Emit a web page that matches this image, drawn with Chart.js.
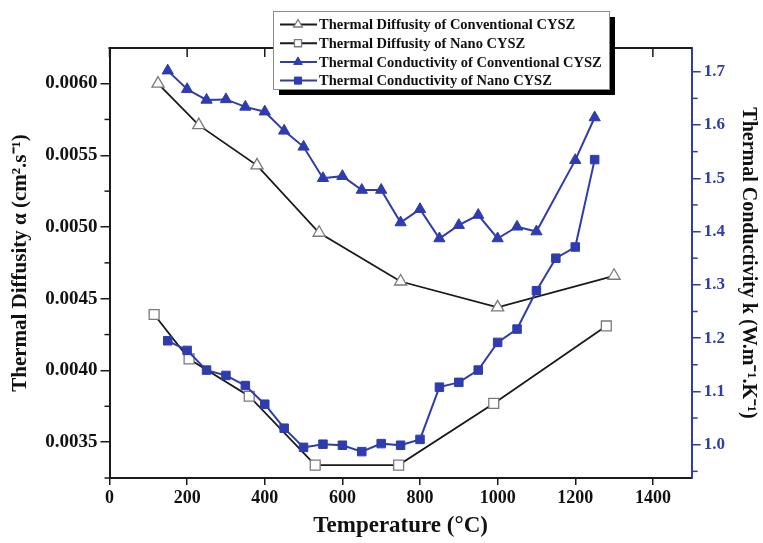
<!DOCTYPE html>
<html>
<head>
<meta charset="utf-8">
<script src="https://cdn.jsdelivr.net/npm/chart.js@4.4.0/dist/chart.umd.min.js"></script>
<style>
  html, body { margin: 0; padding: 0; background: #fff; }
  canvas { display: block; }
</style>
</head>
<body>
<canvas id="tcChart" width="763" height="543"></canvas>
<script>
const SERIF = "'Liberation Serif', 'Times New Roman', serif";
const BLUE = '#2e3cae';
const INK = '#1a1a1a';

// thermal diffusivity (left axis)
const diffConvTemp = [125, 230, 380, 540, 750, 1000, 1300];
const diffConvVal = [0.00600, 0.00571, 0.00543, 0.00496, 0.00462, 0.00444, 0.00466];
const diffNanoTemp = [115, 205, 360, 530, 745, 990, 1280];
const diffNanoVal = [0.00439, 0.00408, 0.00382, 0.00334, 0.00334, 0.00377, 0.00431];

// thermal conductivity (right axis)
const condConvTemp = [150, 200, 250, 300, 350, 400, 450, 500, 550, 600, 650, 700,
                      750, 800, 850, 900, 950, 1000, 1050, 1100, 1200, 1250];
const condConvVal = [1.702, 1.667, 1.647, 1.648, 1.634, 1.625, 1.589, 1.559, 1.500, 1.504, 1.478, 1.478,
                     1.417, 1.442, 1.387, 1.412, 1.431, 1.387, 1.409, 1.400, 1.534, 1.614];
const condNanoTemp = [150, 200, 250, 300, 350, 400, 450, 500, 550, 600, 650, 700,
                      750, 800, 850, 900, 950, 1000, 1050, 1100, 1150, 1200, 1250];
const condNanoVal = [1.195, 1.177, 1.140, 1.130, 1.111, 1.076, 1.031, 0.995, 1.001, 0.999, 0.987, 1.002,
                     0.999, 1.010, 1.108, 1.117, 1.140, 1.192, 1.217, 1.289, 1.350, 1.371, 1.535];

// axis ranges and tick spacing
const tempRange = [0, 1500];
const tempStep = 200;
const diffRange = [0.00325, 0.006248];
const diffStep = 0.0005;
const condRange = [0.9375, 1.7445];
const condStep = 0.1;

const pts = (xs, ys) => xs.map((x, i) => ({ x: x, y: ys[i] }));

// top border with inward ticks, plus minor ticks on both y axes
const framePlugin = {
  id: 'frame',
  afterDraw(chart) {
    const { ctx, chartArea: a, scales } = chart;
    ctx.save();
    ctx.strokeStyle = INK;
    ctx.lineWidth = 2;
    ctx.beginPath();
    ctx.moveTo(a.left - 1, a.top);
    ctx.lineTo(a.right, a.top);
    ctx.stroke();

    ctx.lineWidth = 1.5;
    scales.x.ticks.forEach(t => {
      const px = scales.x.getPixelForValue(t.value);
      ctx.beginPath();
      ctx.moveTo(px, a.top);
      ctx.lineTo(px, a.top + 9);
      ctx.stroke();
    });

    const minor = (scale, step, x0, len, color) => {
      ctx.strokeStyle = color;
      ctx.lineWidth = 1.5;
      const vals = scale.ticks.map(t => t.value);
      const mids = vals.map(v => v - step / 2);
      mids.push(vals[vals.length - 1] + step / 2);
      mids.filter(v => v > scale.min && v < scale.max).forEach(v => {
        const py = scale.getPixelForValue(v);
        ctx.beginPath();
        ctx.moveTo(x0, py);
        ctx.lineTo(x0 + len, py);
        ctx.stroke();
      });
    };
    minor(scales.y, diffStep, a.left, -5, INK);
    minor(scales.y1, condStep, a.right, 6, BLUE);
    ctx.restore();
  }
};

// boxed legend with drop shadow, sitting over the top border
const legendPlugin = {
  id: 'boxLegend',
  afterDraw(chart) {
    const ctx = chart.ctx;
    const bx = 273, by = 11, bw = 336, bh = 78;
    ctx.save();
    ctx.fillStyle = '#000';
    ctx.fillRect(bx + 6, by + 6, bw, bh);
    ctx.fillStyle = '#fff';
    ctx.fillRect(bx, by, bw, bh);
    ctx.strokeStyle = '#8a8a8a';
    ctx.lineWidth = 1;
    ctx.strokeRect(bx + 0.5, by + 0.5, bw, bh);

    ctx.font = 'bold 14.5px ' + SERIF;
    ctx.textBaseline = 'middle';
    chart.data.datasets.forEach((ds, i) => {
      const y = by + 13.5 + i * 18.7;
      ctx.strokeStyle = ds.borderColor;
      ctx.lineWidth = 2;
      ctx.beginPath();
      ctx.moveTo(bx + 7, y);
      ctx.lineTo(bx + 44, y);
      ctx.stroke();
      ctx.fillStyle = ds.pointBackgroundColor;
      ctx.strokeStyle = ds.pointBorderColor;
      ctx.lineWidth = ds.pointBorderWidth;
      Chart.helpers.drawPoint(ctx, {
        pointStyle: ds.pointStyle, radius: 5, rotation: 0, borderWidth: ds.pointBorderWidth
      }, bx + 25, y);
      ctx.fillStyle = '#111';
      ctx.fillText(ds.label, bx + 46, y + 1);
    });
    ctx.restore();
  }
};

new Chart(document.getElementById('tcChart'), {
  type: 'line',
  data: {
    datasets: [
      {
        label: 'Thermal Diffusity of Conventional CYSZ',
        data: pts(diffConvTemp, diffConvVal),
        yAxisID: 'y', order: 2,
        borderColor: INK, borderWidth: 1.8,
        pointStyle: 'triangle', pointRadius: 7,
        pointBackgroundColor: '#fff', pointBorderColor: '#7a7a7a', pointBorderWidth: 1.3
      },
      {
        label: 'Thermal Diffusity of Nano CYSZ',
        data: pts(diffNanoTemp, diffNanoVal),
        yAxisID: 'y', order: 2,
        borderColor: INK, borderWidth: 1.8,
        pointStyle: 'rect', pointRadius: 7,
        pointBackgroundColor: '#fff', pointBorderColor: '#7a7a7a', pointBorderWidth: 1.3
      },
      {
        label: 'Thermal Conductivity of Conventional CYSZ',
        data: pts(condConvTemp, condConvVal),
        yAxisID: 'y1', order: 1,
        borderColor: BLUE, borderWidth: 2,
        pointStyle: 'triangle', pointRadius: 6.5,
        pointBackgroundColor: BLUE, pointBorderColor: BLUE, pointBorderWidth: 1
      },
      {
        label: 'Thermal Conductivity of Nano CYSZ',
        data: pts(condNanoTemp, condNanoVal),
        yAxisID: 'y1', order: 1,
        borderColor: BLUE, borderWidth: 2,
        pointStyle: 'rect', pointRadius: 6,
        pointBackgroundColor: BLUE, pointBorderColor: BLUE, pointBorderWidth: 1
      }
    ]
  },
  options: {
    responsive: false,
    animation: false,
    layout: { padding: { top: 48, left: 0, right: 0, bottom: 0 } },
    plugins: { legend: { display: false }, tooltip: { enabled: false } },
    scales: {
      x: {
        type: 'linear', position: 'bottom',
        min: tempRange[0], max: tempRange[1],
        afterFit: s => { s.height = 65; },
        ticks: {
          stepSize: tempStep, includeBounds: false, maxRotation: 0,
          color: '#111', font: { family: SERIF, size: 18, weight: 'bold' }, padding: 3,
          callback: v => String(v)
        },
        grid: { drawOnChartArea: false, tickLength: 7, color: INK, lineWidth: 1.5 },
        border: { color: INK, width: 2 },
        title: {
          display: true, text: 'Temperature (°C)', color: '#111',
          font: { family: SERIF, size: 23, weight: 'bold' },
          padding: { top: 0, bottom: 3 }
        }
      },
      y: {
        type: 'linear', position: 'left',
        min: diffRange[0], max: diffRange[1],
        afterFit: s => { s.width = 109.5; },
        ticks: {
          stepSize: diffStep, includeBounds: false,
          color: '#111', font: { family: SERIF, size: 19, weight: 'bold' }, padding: 3,
          callback: v => v.toFixed(4)
        },
        grid: { drawOnChartArea: false, tickLength: 9, color: INK, lineWidth: 1.5 },
        border: { color: INK, width: 2 },
        title: {
          display: true, text: 'Thermal Diffusity α (cm².s⁻¹)', color: '#111',
          font: { family: SERIF, size: 21, weight: 'bold' },
          padding: { top: 8, bottom: 0 }
        }
      },
      y1: {
        type: 'linear', position: 'right',
        min: condRange[0], max: condRange[1],
        afterFit: s => { s.width = 71.3; },
        ticks: {
          stepSize: condStep, includeBounds: false,
          color: BLUE, font: { family: SERIF, size: 17, weight: 'bold' }, padding: 3,
          callback: v => v.toFixed(1)
        },
        grid: { drawOnChartArea: false, tickLength: 9, color: BLUE, lineWidth: 1.5 },
        border: { color: BLUE, width: 2 },
        title: {
          display: true, text: 'Thermal Conductivity k (W.m⁻¹.K⁻¹)', color: '#111',
          font: { family: SERIF, size: 20, weight: 'bold' },
          padding: { top: 3, bottom: 0 }
        }
      }
    }
  },
  plugins: [framePlugin, legendPlugin]
});
</script>
</body>
</html>
